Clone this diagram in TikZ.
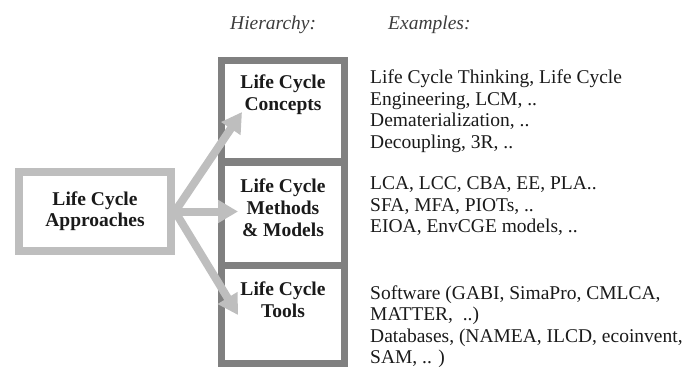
\documentclass[tikz,border=0pt]{standalone}
\usepackage{fontspec}
\setmainfont{Liberation Serif}
\usetikzlibrary{arrows.meta}
\definecolor{framegray}{HTML}{808080}
\definecolor{arrowgray}{HTML}{BEBEBE}
\definecolor{ink}{HTML}{1A1A1A}
\begin{document}
\begin{tikzpicture}[x=1pt,y=-1pt,
  boxtext/.style={font=\fontsize{19.5}{22}\selectfont\bfseries, align=center,
    inner sep=0pt, anchor=north, text=ink},
  extext/.style={font=\fontsize{19.5}{21.5}\selectfont, align=left,
    inner sep=0pt, anchor=north west, text=ink},
  headtext/.style={font=\fontsize{19.5}{22}\selectfont\itshape,
    inner sep=0pt, anchor=base west, text=ink!85},
  approachbox/.style={draw=arrowgray, line width=8pt, fill=white,
    minimum width=152pt, minimum height=79pt, inner sep=0pt,
    font=\fontsize{19.5}{21}\selectfont\bfseries, align=center, text=ink},
  framebox/.style={draw=framegray, line width=7.5pt},
  linkarrow/.style={draw=arrowgray, line width=8pt,
    -{Triangle[length=20pt,width=22pt]}},
]
\useasboundingbox (0,0) rectangle (686,367);

% column headings
\node[headtext] (hier) at (230,29) {Hierarchy:};
\node[headtext] (exam) at (388,29) {Examples:};

% stacked hierarchy column
\draw[framebox] (221.5,60.5) rectangle (344.5,162);
\draw[framebox] (221.5,162) rectangle (344.5,265.5);
\draw[framebox] (221.5,265.5) rectangle (344.5,363.5);

% labels inside the column
\node[boxtext] (concepts) at (283,74.7) {Life Cycle\\Concepts};
\node[boxtext] (methods) at (283,178.7) {Life Cycle\\Methods\\\& Models};
\node[boxtext] (tools) at (283,281.7) {Life Cycle\\Tools};

% root box
\node[approachbox] (app) at (95,211.5) {Life Cycle\\Approaches};

% arrow tips inside the column
\coordinate (tipC) at (242,112);
\coordinate (tipM) at (238,211.5);
\coordinate (tipT) at (238,315);

\draw[linkarrow] (app.east) -- (tipC);
\draw[linkarrow] (app.east) -- (tipM);
\draw[linkarrow] (app.east) -- (tipT);

% examples
\node[extext] (exC) at (370,69.7) {Life Cycle Thinking, Life Cycle\\Engineering, LCM, ..\\Dematerialization, ..\\Decoupling, 3R, ..};
\node[extext] (exM) at (370,176.7) {LCA, LCC, CBA, EE, PLA..\\SFA, MFA, PIOTs, ..\\EIOA, EnvCGE models, ..};
\node[extext] (exT) at (370,285.2) {Software (GABI, SimaPro, CMLCA,\\MATTER,\ \ ..)\\Databases, (NAMEA, ILCD, ecoinvent,\\SAM, .. )};
\end{tikzpicture}
\end{document}
